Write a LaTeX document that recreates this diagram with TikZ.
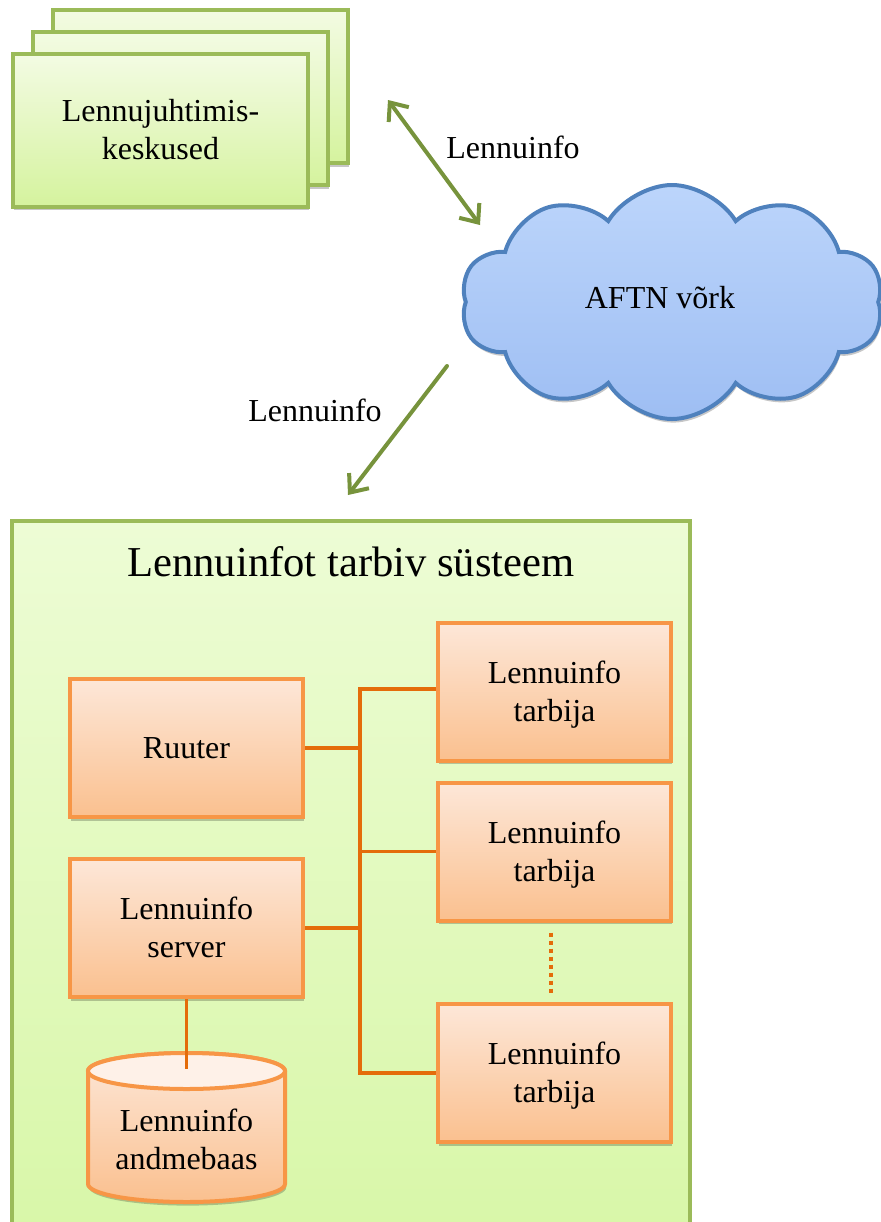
\documentclass[tikz,border=0pt]{standalone}
\usepackage{fontspec}
\setmainfont{Liberation Serif}
\usetikzlibrary{arrows.meta,shapes.symbols,shadows}

\definecolor{grnline}{HTML}{9BBB59}
\definecolor{grnarrow}{HTML}{77933C}
\definecolor{grntop}{HTML}{F3FBE3}
\definecolor{grnbot}{HTML}{D5F39E}
\definecolor{conttop}{HTML}{EDFCD5}
\definecolor{contbot}{HTML}{D8F7A8}
\definecolor{orline}{HTML}{F79646}
\definecolor{orwire}{HTML}{E46C0A}
\definecolor{ortop}{HTML}{FDE7D8}
\definecolor{orbot}{HTML}{FAC08F}
\definecolor{ortopend}{HTML}{FEF1E8}
\definecolor{bluline}{HTML}{4F81BD}
\definecolor{blutop}{HTML}{BCD5FB}
\definecolor{blubot}{HTML}{9EBEF3}

% fixed line metrics so that descenders do not move the text
\newcommand\linestrut{\rule[-3.5pt]{0pt}{17.9pt}}

\tikzset{
  softshadow/.style={drop shadow={shadow xshift=0.6pt, shadow yshift=-1.8pt, opacity=0.22, fill=black}},
  bodyfont/.style={font=\fontsize{16pt}{19pt}\selectfont},
  stackbox/.style={draw=grnline, line width=2pt, top color=grntop, bottom color=grnbot,
    minimum width=147.5pt, minimum height=76.5pt, softshadow, align=center, bodyfont},
  orbox/.style={draw=orline, line width=2pt, top color=ortop, bottom color=orbot,
    minimum width=116.5pt, minimum height=69pt, softshadow, align=center, bodyfont},
  plain/.style={align=center, bodyfont},
  barb/.tip={Straight Barb[length=7.5pt,width=12.5pt,line width=2pt]},
  flow/.style={draw=grnarrow, line width=2pt, line cap=round},
  wire/.style={draw=orwire, line width=1.75pt},
  dotwire/.style={draw=orwire, line width=2pt, dash pattern=on 2pt off 2pt},
}

\begin{document}
\begin{tikzpicture}[x=0.5pt,y=-0.5pt]
\useasboundingbox (0,0) rectangle (881,1222);
\clip (0,0) rectangle (881,1222);

% stacked control centres
\node[stackbox] (cc3) at (200.5,86.5) {};
\node[stackbox] (cc2) at (180.5,108.5) {};
\node[stackbox] (cc1) at (160.5,130) {Lennujuhtimis-\\keskused};

% network cloud
\node[cloud, cloud puffs=10, cloud puff arc=118, cloud ignores aspect,
  minimum width=211pt, minimum height=117pt, draw=bluline, line width=2pt,
  top color=blutop, bottom color=blubot, softshadow] (aftn) at (672,302) {};
\node[plain] (aftnlbl) at (660,298) {AFTN võrk};

% information flows
\coordinate (f1a) at (388,100);
\coordinate (f1b) at (480,225);
\draw[flow, barb-barb] (f1a) -- (f1b);
\node[plain] (lbl1) at (513,147) {Lennuinfo};

\coordinate (f2a) at (447,366);
\coordinate (f2b) at (348,495);
\draw[flow, -barb] (f2a) -- (f2b);
\node[plain] (lbl2) at (315,410) {Lennuinfo};

% consuming system
\node[draw=grnline, line width=2pt, top color=conttop, bottom color=contbot,
  minimum width=339pt, minimum height=359.5pt] (sys) at (351,880.5) {};
\node[font=\fontsize{21.3pt}{25pt}\selectfont] (title) at (351,562) {Lennuinfot tarbiv süsteem};

\node[orbox] (ruuter) at (186.5,748) {\linestrut Ruuter};
\node[orbox] (server) at (186.5,928) {\linestrut Lennuinfo\\server\linestrut};
\node[orbox] (t1) at (554.5,691.5) {\linestrut Lennuinfo\\tarbija\linestrut};
\node[orbox] (t2) at (554.5,851.5) {\linestrut Lennuinfo\\tarbija\linestrut};
\node[orbox] (t3) at (554.5,1073) {\linestrut Lennuinfo\\tarbija\linestrut};

% database cylinder
\coordinate (dbtop) at (186.5,1069);
\path[draw=orline, line width=2pt, top color=ortop, bottom color=orbot, softshadow]
  (88,1071) -- (88,1184) arc[start angle=180, end angle=360, x radius=49.25pt, y radius=9pt]
  -- (285,1071) arc[start angle=0, end angle=180, x radius=49.25pt, y radius=9pt] -- cycle;
\path[draw=orline, line width=2pt, fill=ortopend]
  (186.5,1071) ellipse[x radius=49.25pt, y radius=9pt];
\node[plain] (db) at (186.5,1139) {Lennuinfo\\andmebaas};

% wiring
\coordinate (busx) at (360,0);
\draw[wire] (t1.west |- 0,689) -- (busx |- 0,689) -- (busx |- t3.west) -- (t3.west);
\draw[wire] (t2.west) -- (t2.west -| busx);
\draw[wire] (ruuter.east) -- (ruuter.east -| busx);
\draw[wire] (server.east) -- (server.east -| busx);
\draw[wire] (server.south) -- (dbtop);
\draw[dotwire, shorten <=5pt, shorten >=4.5pt] ([xshift=-1.75pt]t2.south) -- ([xshift=-1.75pt]t3.north);
\end{tikzpicture}
\end{document}
